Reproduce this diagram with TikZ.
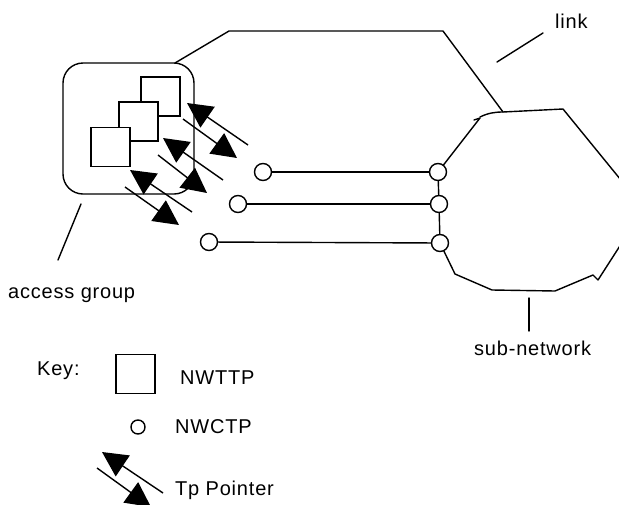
\documentclass[tikz,border=0pt]{standalone}
\usepackage{fontspec}
\setmainfont[LetterSpace=4]{Liberation Sans}
\usetikzlibrary{arrows.meta}
\tikzset{
  ln/.style={line width=1.4pt, line join=round, line cap=round},
  sq/.style={draw, line width=1.4pt, fill=white, minimum size=39pt, inner sep=0pt},
  ctp/.style={draw, circle, line width=1.4pt, fill=white, minimum size=17pt, inner sep=0pt},
  ptr/.style={line width=1.4pt, -{Triangle[length=25pt, width=25pt]}},
  lbl/.style={anchor=base west, inner sep=0pt, font=\fontsize{20}{24}\selectfont},
}
\begin{document}
\begin{tikzpicture}[x=1pt,y=-1pt]
\useasboundingbox (0,0) rectangle (619,504);
% access group box
\draw[ln, rounded corners=20pt] (63,63) rectangle (194,194);
\coordinate (agtop) at (175,63);
\node[sq] (s1) at (160.5,96.5) {};
\node[sq] (s2) at (138.5,121.5) {};
\node[sq] (s3) at (110.5,147) {};
% link
\coordinate (lk1) at (229,31);
\coordinate (lk2) at (443,31);
\coordinate (lk3) at (503,112);
\draw[ln] (agtop) -- (lk1) -- (lk2) -- (lk3);
% link label
\coordinate (lkA) at (497,62);
\coordinate (lkB) at (543,33);
\draw[ln] (lkA) -- (lkB);
\node[lbl] (linklbl) at (555,28) {link};
% connection points
\node[ctp] (l1) at (263,172) {};
\node[ctp] (l2) at (238,204) {};
\node[ctp] (l3) at (209,242) {};
\node[ctp] (r1) at (438,172) {};
\node[ctp] (r2) at (439,204) {};
\node[ctp] (r3) at (440,243) {};
\draw[ln] (l1) -- (r1);
\draw[ln] (l2) -- (r2);
\draw[ln] (l3) -- (r3);
% sub-network cloud
\draw[ln] (r1) -- (r2);
\draw[ln] (r2) -- (r3);
\draw[ln] (r1) -- (480,118) -- (474,120);
\draw[ln] (480,117) .. controls (488,113) and (495,112) .. (lk3) -- (563,109) -- (625,185);
\draw[ln] (r3) -- (455,274) -- (492,290) -- (555,291) -- (593,275) -- (598,280) -- (625,238);
% sub-network label
\coordinate (snA) at (529,298);
\coordinate (snB) at (529,331);
\draw[ln] (snA) -- (snB);
\node[lbl] (snlbl) at (474,355) {sub-network};
% access group label
\coordinate (agA) at (81,204);
\coordinate (agB) at (58,260);
\draw[ln] (agA) -- (agB);
\node[lbl] (aglbl) at (8,298) {access group};
% Tp pointers
\draw[ptr] (248,145) -- (187,103);
\draw[ptr] (183,119) -- (237,158);
\draw[ptr] (223,180) -- (163,138);
\draw[ptr] (158,155) -- (207,193);
\draw[ptr] (192,212) -- (130,170);
\draw[ptr] (125,187) -- (179,225);
% key
\node[lbl] (key) at (37,375) {Key:};
\node[sq] (ks) at (135.5,374) {};
\node[lbl] (k1) at (180,384) {NWTTP};
\node[ctp, minimum size=14pt] (kc) at (138,427) {};
\node[lbl] (k2) at (175,433) {NWCTP};
\draw[ptr] (163,493) -- (102,452);
\draw[ptr] (97,468) -- (151,507);
\node[lbl] (k3) at (175,495) {Tp Pointer};
\end{tikzpicture}
\end{document}
